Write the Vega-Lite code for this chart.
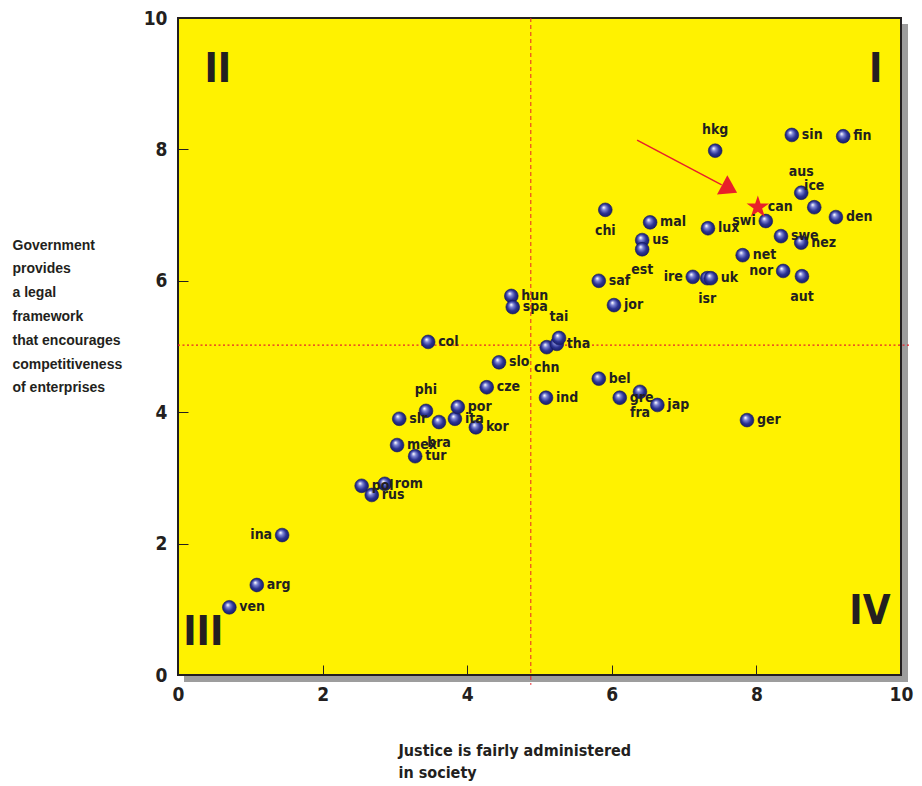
{
  "$schema": "https://vega.github.io/schema/vega-lite/v6.json",
  "width": 723,
  "height": 657,
  "autosize": "none",
  "padding": {"left": 178, "top": 18, "right": 21, "bottom": 111},
  "background": "#ffffff",
  "config": {
    "view": {"fill": "#fff200", "stroke": "#231f20", "strokeWidth": 2},
    "axis": {
      "grid": false,
      "domain": false,
      "tickCount": 5,
      "labelFlush": false,
      "tickColor": "#231f20",
      "tickWidth": 1,
      "tickSize": -10,
      "labelFont": "Liberation Sans Narrow, DejaVu Sans Condensed, sans-serif",
      "labelFontWeight": "bold",
      "labelFontSize": 19,
      "labelColor": "#231f20",
      "titleColor": "#231f20",
      "titleFontWeight": "bold"
    },
    "axisX": {
      "labelPadding": 20,
      "titleFont": "Liberation Sans Narrow, DejaVu Sans Condensed, sans-serif",
      "titleFontSize": 16,
      "titleAlign": "left",
      "titleAnchor": "start",
      "titleBaseline": "top",
      "titleX": 220,
      "titleY": 67,
      "titleLineHeight": 22
    },
    "axisY": {
      "labelPadding": 21,
      "titleFont": "Liberation Sans, Arial, sans-serif",
      "titleFontSize": 14,
      "titleAngle": 0,
      "titleAlign": "left",
      "titleBaseline": "top",
      "titleX": -166,
      "titleY": 220,
      "titleLineHeight": 23.8
    }
  },
  "datasets": {
    "pts": [
      {"c": "ven", "x": 0.71, "y": 1.03},
      {"c": "arg", "x": 1.09, "y": 1.37},
      {"c": "ina", "x": 1.44, "y": 2.13},
      {"c": "pol", "x": 2.54, "y": 2.88},
      {"c": "rus", "x": 2.68, "y": 2.74},
      {"c": "rom", "x": 2.86, "y": 2.91},
      {"c": "mex", "x": 3.03, "y": 3.5},
      {"c": "slr", "x": 3.06, "y": 3.9},
      {"c": "tur", "x": 3.28, "y": 3.33},
      {"c": "phi", "x": 3.43, "y": 4.02},
      {"c": "col", "x": 3.46, "y": 5.07},
      {"c": "bra", "x": 3.61, "y": 3.85},
      {"c": "ita", "x": 3.83, "y": 3.9},
      {"c": "por", "x": 3.87, "y": 4.08},
      {"c": "kor", "x": 4.12, "y": 3.77},
      {"c": "cze", "x": 4.27, "y": 4.38},
      {"c": "slo", "x": 4.44, "y": 4.76},
      {"c": "hun", "x": 4.61, "y": 5.77},
      {"c": "spa", "x": 4.63, "y": 5.6},
      {"c": "ind", "x": 5.09, "y": 4.22},
      {"c": "chn", "x": 5.1, "y": 4.99},
      {"c": "tha", "x": 5.24, "y": 5.04},
      {"c": "tai", "x": 5.27, "y": 5.13},
      {"c": "bel", "x": 5.82, "y": 4.51},
      {"c": "saf", "x": 5.82, "y": 6.0},
      {"c": "chi", "x": 5.91, "y": 7.08},
      {"c": "jor", "x": 6.03, "y": 5.63},
      {"c": "gre", "x": 6.11, "y": 4.22},
      {"c": "fra", "x": 6.39, "y": 4.31},
      {"c": "us", "x": 6.42, "y": 6.62},
      {"c": "est", "x": 6.42, "y": 6.48},
      {"c": "mal", "x": 6.53, "y": 6.89},
      {"c": "jap", "x": 6.63, "y": 4.11},
      {"c": "ire", "x": 7.12, "y": 6.06},
      {"c": "isr", "x": 7.32, "y": 6.04},
      {"c": "lux", "x": 7.33, "y": 6.8},
      {"c": "uk", "x": 7.37, "y": 6.04},
      {"c": "hkg", "x": 7.43, "y": 7.98},
      {"c": "net", "x": 7.81, "y": 6.39},
      {"c": "ger", "x": 7.87, "y": 3.88},
      {"c": "can", "x": 8.02, "y": 7.12},
      {"c": "swi", "x": 8.13, "y": 6.91},
      {"c": "swe", "x": 8.34, "y": 6.68},
      {"c": "nor", "x": 8.37, "y": 6.15},
      {"c": "sin", "x": 8.49, "y": 8.22},
      {"c": "aus", "x": 8.62, "y": 7.34},
      {"c": "nez", "x": 8.62, "y": 6.58},
      {"c": "aut", "x": 8.63, "y": 6.07},
      {"c": "ice", "x": 8.8, "y": 7.12},
      {"c": "den", "x": 9.1, "y": 6.97},
      {"c": "fin", "x": 9.2, "y": 8.2}
    ],
    "quad": [
      {"q": "II", "x": 0.55, "y": 9.21},
      {"q": "I", "x": 9.65, "y": 9.21},
      {"q": "III", "x": 0.35, "y": 0.64},
      {"q": "IV", "x": 9.57, "y": 0.96}
    ]
  },
  "layer": [
    {
      "data": {"values": [{}]},
      "mark": {"type": "rect", "fill": "#9d9d9d", "xOffset": 1, "x2Offset": 7, "yOffset": 6, "y2Offset": 7},
      "encoding": {
        "x": {"datum": 10, "type": "quantitative", "scale": {"domain": [0, 10], "nice": false}, "title": ["Justice is fairly administered", "in society"]},
        "x2": {"datum": 10},
        "y": {"datum": 10, "type": "quantitative", "scale": {"domain": [0, 10], "nice": false}, "title": ["Government", "provides", "a legal", "framework", "that encourages", "competitiveness", "of enterprises"]},
        "y2": {"datum": 0}
      }
    },
    {
      "data": {"values": [{}]},
      "mark": {"type": "rect", "fill": "#9d9d9d", "xOffset": 6, "x2Offset": 7, "yOffset": 1, "y2Offset": 7},
      "encoding": {
        "x": {"datum": 0, "type": "quantitative", "title": ["Justice is fairly administered", "in society"]},
        "x2": {"datum": 10},
        "y": {"datum": 0, "type": "quantitative", "title": ["Government", "provides", "a legal", "framework", "that encourages", "competitiveness", "of enterprises"]},
        "y2": {"datum": 0}
      }
    },
    {
      "data": {"values": [{}]},
      "mark": {"type": "rule", "color": "#e8202a", "strokeWidth": 1, "strokeDash": [4, 3]},
      "encoding": {
        "x": {"datum": 4.88, "type": "quantitative", "title": ["Justice is fairly administered", "in society"]},
        "y": {"datum": 10, "type": "quantitative", "title": ["Government", "provides", "a legal", "framework", "that encourages", "competitiveness", "of enterprises"]},
        "y2": {"datum": -0.15}
      }
    },
    {
      "data": {"values": [{}]},
      "mark": {"type": "rule", "color": "#e8202a", "strokeWidth": 1.2, "strokeDash": [2, 2.5]},
      "encoding": {
        "y": {"datum": 5.02, "type": "quantitative", "title": ["Government", "provides", "a legal", "framework", "that encourages", "competitiveness", "of enterprises"]},
        "x": {"datum": 0, "type": "quantitative", "title": ["Justice is fairly administered", "in society"]},
        "x2": {"datum": 10.12}
      }
    },
    {
      "data": {"values": [{}]},
      "mark": {"type": "rule", "color": "#e8202a", "strokeWidth": 1.5},
      "encoding": {
        "x": {"datum": 6.35, "type": "quantitative", "title": ["Justice is fairly administered", "in society"]},
        "y": {"datum": 8.14, "type": "quantitative", "title": ["Government", "provides", "a legal", "framework", "that encourages", "competitiveness", "of enterprises"]},
        "x2": {"datum": 7.52},
        "y2": {"datum": 7.46}
      }
    },
    {
      "data": {"values": [{}]},
      "mark": {"type": "point", "shape": "M -0.77 -1 L 0.77 0 L -0.77 1 Z", "size": 484, "angle": 28, "filled": true, "color": "#e8202a", "opacity": 1},
      "encoding": {
        "x": {"datum": 7.63, "type": "quantitative", "title": ["Justice is fairly administered", "in society"]},
        "y": {"datum": 7.4, "type": "quantitative", "title": ["Government", "provides", "a legal", "framework", "that encourages", "competitiveness", "of enterprises"]}
      }
    },
    {
      "data": {"name": "quad"},
      "mark": {"type": "text", "font": "Liberation Sans Narrow, DejaVu Sans Condensed, sans-serif", "fontWeight": "bold", "fontSize": 40, "color": "#231f20", "baseline": "middle", "align": "center"},
      "encoding": {
        "x": {"field": "x", "type": "quantitative", "title": ["Justice is fairly administered", "in society"]},
        "y": {"field": "y", "type": "quantitative", "title": ["Government", "provides", "a legal", "framework", "that encourages", "competitiveness", "of enterprises"]},
        "text": {"field": "q"}
      }
    },
    {
      "data": {"name": "pts"},
      "transform": [{"filter": "datum.c !== 'can'"}],
      "mark": {
        "type": "point", "shape": "circle", "filled": true, "size": 190, "opacity": 1,
        "fill": {"gradient": "radial", "x1": 0.38, "y1": 0.32, "r1": 0.02, "x2": 0.5, "y2": 0.5, "r2": 0.56,
          "stops": [{"offset": 0, "color": "#ffffff"}, {"offset": 0.25, "color": "#7f86d6"}, {"offset": 0.6, "color": "#2b3392"}, {"offset": 1, "color": "#141860"}]},
        "stroke": "#141860", "strokeWidth": 0.6
      },
      "encoding": {
        "x": {"field": "x", "type": "quantitative", "title": ["Justice is fairly administered", "in society"]},
        "y": {"field": "y", "type": "quantitative", "title": ["Government", "provides", "a legal", "framework", "that encourages", "competitiveness", "of enterprises"]}
      }
    },
    {
      "data": {"name": "pts"},
      "transform": [{"filter": "datum.c === 'can'"}],
      "mark": {"type": "point", "shape": "M0,-1L0.2245,-0.309L0.951,-0.309L0.363,0.118L0.588,0.809L0,0.382L-0.588,0.809L-0.363,0.118L-0.951,-0.309L-0.2245,-0.309Z", "size": 560, "filled": true, "color": "#e8202a", "opacity": 1},
      "encoding": {
        "x": {"field": "x", "type": "quantitative", "title": ["Justice is fairly administered", "in society"]},
        "y": {"field": "y", "type": "quantitative", "title": ["Government", "provides", "a legal", "framework", "that encourages", "competitiveness", "of enterprises"]}
      }
    },
    {
      "data": {"name": "pts"},
      "transform": [{"filter": {"not": {"field": "c", "oneOf": ["hkg", "aus", "ice", "tai", "phi", "chi", "est", "isr", "aut", "chn", "fra", "bra", "ina", "ire", "swi", "nor"]}}}],
      "mark": {"type": "text", "align": "left", "baseline": "middle", "dx": 10, "dy": 0, "font": "Liberation Sans Narrow, DejaVu Sans Condensed, sans-serif", "fontWeight": "bold", "fontSize": 14, "color": "#231f20"},
      "encoding": {
        "x": {"field": "x", "type": "quantitative", "title": ["Justice is fairly administered", "in society"]},
        "y": {"field": "y", "type": "quantitative", "title": ["Government", "provides", "a legal", "framework", "that encourages", "competitiveness", "of enterprises"]},
        "text": {"field": "c"}
      }
    },
    {
      "data": {"name": "pts"},
      "transform": [{"filter": {"field": "c", "oneOf": ["hkg", "aus", "ice", "tai", "phi"]}}],
      "mark": {"type": "text", "align": "center", "baseline": "middle", "dy": -21, "font": "Liberation Sans Narrow, DejaVu Sans Condensed, sans-serif", "fontWeight": "bold", "fontSize": 14, "color": "#231f20"},
      "encoding": {
        "x": {"field": "x", "type": "quantitative", "title": ["Justice is fairly administered", "in society"]},
        "y": {"field": "y", "type": "quantitative", "title": ["Government", "provides", "a legal", "framework", "that encourages", "competitiveness", "of enterprises"]},
        "text": {"field": "c"}
      }
    },
    {
      "data": {"name": "pts"},
      "transform": [{"filter": {"field": "c", "oneOf": ["chi", "est", "isr", "aut", "chn", "fra", "bra"]}}],
      "mark": {"type": "text", "align": "center", "baseline": "middle", "dy": 21, "font": "Liberation Sans Narrow, DejaVu Sans Condensed, sans-serif", "fontWeight": "bold", "fontSize": 14, "color": "#231f20"},
      "encoding": {
        "x": {"field": "x", "type": "quantitative", "title": ["Justice is fairly administered", "in society"]},
        "y": {"field": "y", "type": "quantitative", "title": ["Government", "provides", "a legal", "framework", "that encourages", "competitiveness", "of enterprises"]},
        "text": {"field": "c"}
      }
    },
    {
      "data": {"name": "pts"},
      "transform": [{"filter": {"field": "c", "oneOf": ["ina", "ire", "swi", "nor"]}}],
      "mark": {"type": "text", "align": "right", "baseline": "middle", "dx": -10, "font": "Liberation Sans Narrow, DejaVu Sans Condensed, sans-serif", "fontWeight": "bold", "fontSize": 14, "color": "#231f20"},
      "encoding": {
        "x": {"field": "x", "type": "quantitative", "title": ["Justice is fairly administered", "in society"]},
        "y": {"field": "y", "type": "quantitative", "title": ["Government", "provides", "a legal", "framework", "that encourages", "competitiveness", "of enterprises"]},
        "text": {"field": "c"}
      }
    }
  ]
}
